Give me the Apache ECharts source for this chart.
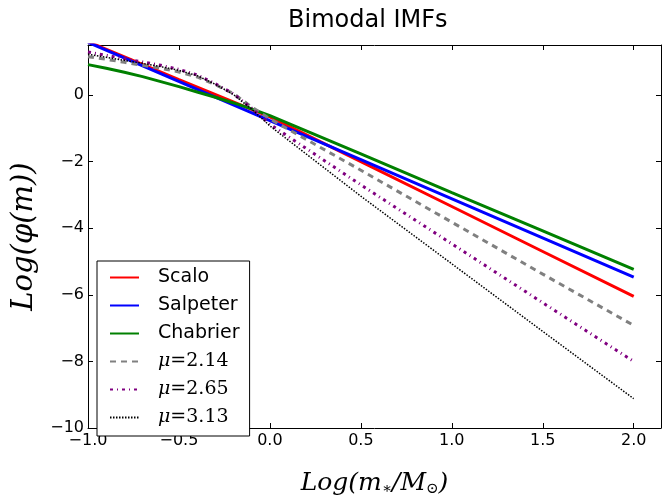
<!DOCTYPE html>
<html>
<head>
<meta charset="utf-8">
<script src="https://cdn.jsdelivr.net/npm/echarts@6/dist/echarts.min.js"></script>
<style>
  html, body { margin: 0; padding: 0; background: #fff; }
  #chart { width: 662px; height: 502px; }
</style>
</head>
<body>
<div id="chart"></div>
<script>
// log(m) 采样点
const gridX = [-1.0, -0.9, -0.8, -0.7, -0.6, -0.5, -0.4, -0.3, -0.2, -0.1, 0.0, 0.5, 1.0, 1.5, 2.0];
// 各 IMF 的 log(phi)
const scaloX = [-1.0, -0.5, 0.0, 0.5, 1.0, 1.5, 2.0];
const scaloY = [1.60, 0.46, -0.66, -2.00, -3.35, -4.70, -6.05];
const salpeterX = [-1.0, 0.0, 0.5, 2.0];
const salpeterY = [1.58, -0.77, -1.94, -5.47];
const chabrierY = [0.91, 0.80, 0.68, 0.55, 0.40, 0.25, 0.09, -0.07, -0.24, -0.42, -0.62, -1.77, -2.93, -4.08, -5.24];
const mu214 = [1.15, 1.07, 0.98, 0.89, 0.80, 0.69, 0.54, 0.31, 0.04, -0.36, -0.72, -2.26, -3.82, -5.38, -6.92];
const mu265 = [1.29, 1.19, 1.09, 0.99, 0.89, 0.77, 0.60, 0.34, 0.03, -0.40, -0.88, -2.70, -4.47, -6.24, -8.00];
const mu313 = [1.22, 1.13, 1.04, 0.95, 0.85, 0.74, 0.58, 0.32, 0.01, -0.43, -0.93, -3.04, -5.07, -7.10, -9.12];
const names = ["Scalo", "Salpeter", "Chabrier", "μ=2.14", "μ=2.65", "μ=3.13"];

function pairs(xs, ys) {
  return xs.map(function (x, i) { return [x, ys[i]]; });
}
function minus(v, d) {
  return v.toFixed(d).replace("-", "\u2212");
}

let chart = echarts.init(document.getElementById("chart"));

let tickFont = { color: "#000", fontFamily: "DejaVu Sans", fontSize: 16 };
let spine = { onZero: false, lineStyle: { color: "#000", width: 1 } };
let tick = { inside: true, length: 5, lineStyle: { color: "#000" } };

let option = {
  animation: false,
  title: {
    text: "Bimodal IMFs",
    left: 283,
    top: 4,
    textStyle: { fontFamily: "DejaVu Sans", fontWeight: "normal", fontSize: 24, color: "#000" },
  },
  grid: { left: 88, right: 1, top: 45, bottom: 55 },
  legend: {
    orient: "vertical",
    left: 97,
    top: 261,
    itemWidth: 29,
    itemHeight: 14,
    itemGap: 9,
    padding: [7, 10, 9, 12],
    backgroundColor: "#fff",
    borderColor: "#000",
    borderWidth: 1,
    borderRadius: 0,
    data: names,
    itemStyle: { opacity: 0 },
    textStyle: {
      fontFamily: "DejaVu Sans",
      fontSize: 19,
      color: "#000",
      padding: [0, 0, 0, 14],
      rich: {
        mu: { fontFamily: "DejaVu Serif", fontStyle: "italic", fontSize: 19 },
        eq: { fontFamily: "DejaVu Serif", fontSize: 19 },
      },
    },
    formatter: function (name) {
      if (name.charAt(0) === "μ") {
        return "{mu|μ}{eq|" + name.slice(1) + "}";
      }
      return name;
    },
  },
  xAxis: [
    {
      type: "value",
      min: -1,
      max: 2.15,
      interval: 0.5,
      name: "{i|Log(m}{s|∗}{i|/M}{s|⊙}{i|)}",
      nameLocation: "middle",
      nameGap: 41,
      nameTextStyle: {
        rich: {
          i: { fontFamily: "DejaVu Serif", fontStyle: "italic", fontSize: 25, color: "#000" },
          s: { fontFamily: "DejaVu Serif", fontSize: 15, color: "#000", verticalAlign: "bottom", padding: [13, 0, 0, 0] },
        },
      },
      axisLine: spine,
      axisTick: tick,
      axisLabel: Object.assign({ margin: 5, showMaxLabel: false, formatter: function (v) { return minus(v, 1); } }, tickFont),
      splitLine: { show: false },
    },
    {
      type: "value",
      position: "top",
      min: -1,
      max: 2.15,
      interval: 0.5,
      axisLine: spine,
      axisTick: tick,
      axisLabel: { show: false },
      splitLine: { show: false },
    },
  ],
  yAxis: [
    {
      type: "value",
      min: -10,
      max: 1.5,
      interval: 2,
      name: "{i|Log(φ(m))}",
      nameLocation: "middle",
      nameGap: 47,
      nameTextStyle: {
        rich: { i: { fontFamily: "DejaVu Serif", fontStyle: "italic", fontSize: 29, color: "#000" } },
      },
      axisLine: spine,
      axisTick: tick,
      axisLabel: Object.assign({ margin: 4, showMaxLabel: false, formatter: function (v) { return minus(v, 0); } }, tickFont),
      splitLine: { show: false },
    },
    {
      type: "value",
      position: "right",
      min: -10,
      max: 1.5,
      interval: 2,
      axisLine: spine,
      axisTick: tick,
      axisLabel: { show: false },
      splitLine: { show: false },
    },
  ],
  series: [
    {
      name: "Scalo",
      type: "line",
      symbol: "none",
      data: pairs(scaloX, scaloY),
      lineStyle: { color: "#ff0000", width: 3 },
      itemStyle: { color: "#ff0000" },
    },
    {
      name: "Salpeter",
      type: "line",
      symbol: "none",
      data: pairs(salpeterX, salpeterY),
      lineStyle: { color: "#0000ff", width: 3 },
      itemStyle: { color: "#0000ff" },
    },
    {
      name: "Chabrier",
      type: "line",
      symbol: "none",
      data: pairs(gridX, chabrierY),
      lineStyle: { color: "#008000", width: 3 },
      itemStyle: { color: "#008000" },
    },
    {
      name: "μ=2.14",
      type: "line",
      symbol: "none",
      data: pairs(gridX, mu214),
      lineStyle: { color: "#808080", width: 3, type: [6, 5] },
      itemStyle: { color: "#808080" },
    },
    {
      name: "μ=2.65",
      type: "line",
      symbol: "none",
      data: pairs(gridX, mu265),
      lineStyle: { color: "#800080", width: 3, type: [3, 4, 1, 4] },
      itemStyle: { color: "#800080" },
    },
    {
      name: "μ=3.13",
      type: "line",
      symbol: "none",
      data: pairs(gridX, mu313),
      lineStyle: { color: "#000", width: 1.5, type: [1.5, 1.5] },
      itemStyle: { color: "#000" },
    },
  ],
};

chart.setOption(option);
</script>
</body>
</html>
